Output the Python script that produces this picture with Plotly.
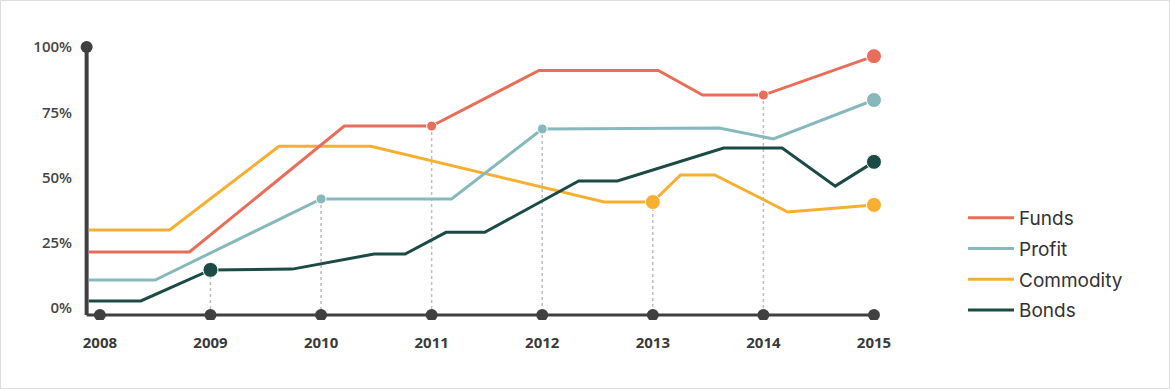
import plotly.graph_objects as go

# ---- data ----
years = [2008, 2009, 2010, 2011, 2012, 2013, 2014, 2015]
year_labels = ["2008", "2009", "2010", "2011", "2012", "2013", "2014", "2015"]
y_ticks = [0, 25, 50, 75, 100]
y_tick_labels = ["0%", "25%", "50%", "75%", "100%"]

funds_x = [2007.9, 2008.81, 2010.21, 2011.0, 2011.97, 2013.05, 2013.45, 2014.0, 2015.0]
funds_y = [21.5, 21.5, 69.7, 69.7, 91.0, 91.0, 81.6, 81.6, 96.5]

profit_x = [2007.9, 2008.5, 2010.0, 2011.18, 2012.0, 2013.6, 2014.09, 2015.0]
profit_y = [10.7, 10.7, 41.8, 41.8, 68.6, 69.0, 64.8, 79.7]

commodity_x = [2007.9, 2008.63, 2009.62, 2010.45, 2012.56, 2013.0, 2013.25, 2013.56, 2014.22, 2015.0]
commodity_y = [29.9, 29.9, 62.0, 62.0, 40.6, 40.6, 51.0, 51.0, 36.8, 39.5]

bonds_x = [2007.9, 2008.37, 2009.0, 2009.74, 2010.48, 2010.76, 2011.13, 2011.48, 2012.33, 2012.68, 2013.64, 2014.17, 2014.65, 2015.0]
bonds_y = [2.7, 2.7, 14.6, 14.9, 20.7, 20.7, 29.0, 29.0, 48.7, 48.7, 61.3, 61.3, 46.7, 56.0]

# highlighted points: (series, year, big?)
highlights = [
    ("Bonds", 2009, True),
    ("Profit", 2010, False),
    ("Funds", 2011, False),
    ("Profit", 2012, False),
    ("Commodity", 2013, True),
    ("Funds", 2014, False),
    ("Funds", 2015, True),
    ("Profit", 2015, True),
    ("Commodity", 2015, True),
    ("Bonds", 2015, True),
]
dashed_years = [2009, 2010, 2011, 2012, 2013, 2014]

# ---- styles ----
colors = {"Funds": "#E96E5A", "Profit": "#87B9BC", "Commodity": "#F6AF30", "Bonds": "#1C4A44"}
series = {
    "Funds": (funds_x, funds_y),
    "Profit": (profit_x, profit_y),
    "Commodity": (commodity_x, commodity_y),
    "Bonds": (bonds_x, bonds_y),
}
legend_rank = {"Funds": 1, "Profit": 2, "Commodity": 3, "Bonds": 4}
draw_order = ["Commodity", "Profit", "Funds", "Bonds"]
axis_color = "#404040"
axis_x = 2007.88
axis_y = -2.7

X_RANGE = [2007.82, 2015.145]
Y_RANGE = [-4.6, 102.7]


def value_at(name, year):
    xs, ys = series[name]
    for i in range(len(xs) - 1):
        if xs[i] <= year <= xs[i + 1]:
            if xs[i + 1] == xs[i]:
                return ys[i]
            t = (year - xs[i]) / (xs[i + 1] - xs[i])
            return ys[i] + t * (ys[i + 1] - ys[i])
    return ys[-1]


fig = go.Figure()

shapes = []
# dashed drop lines
for name, yr, big in highlights:
    if yr in dashed_years:
        shapes.append(dict(type="line", xref="x", yref="y", x0=yr, x1=yr,
                           y0=value_at(name, yr), y1=axis_y, layer="below",
                           line=dict(color="#BDBDBD", width=1.5, dash="dot")))
# axes
shapes.append(dict(type="line", xref="x", yref="y", x0=axis_x, x1=axis_x, y0=100, y1=axis_y,
                   line=dict(color=axis_color, width=4), layer="below"))
shapes.append(dict(type="line", xref="x", yref="y", x0=axis_x, x1=years[-1], y0=axis_y, y1=axis_y,
                   line=dict(color=axis_color, width=3), layer="below"))
# outer frame
shapes.append(dict(type="rect", xref="paper", yref="paper",
                   x0=(0.5 - 80) / 810, x1=(1169.5 - 80) / 810,
                   y0=(320 - 388.5) / 280, y1=(320 - 0.5) / 280,
                   line=dict(color="#DDDDDD", width=1), layer="below"))

# axis end circles
fig.add_trace(go.Scatter(x=years, y=[axis_y] * len(years), mode="markers",
                         marker=dict(size=12, color=axis_color, opacity=1),
                         showlegend=False, hoverinfo="skip"))
fig.add_trace(go.Scatter(x=[axis_x], y=[100], mode="markers",
                         marker=dict(size=12, color=axis_color, opacity=1),
                         showlegend=False, hoverinfo="skip"))

for name in draw_order:
    xs, ys = series[name]
    fig.add_trace(go.Scatter(x=xs, y=ys, mode="lines", name=name,
                             line=dict(color=colors[name], width=3),
                             legendrank=legend_rank[name], legendgroup=name))

for name in draw_order:
    hx = [yr for n, yr, b in highlights if n == name]
    hs = [15 if b else 10 for n, yr, b in highlights if n == name]
    hy = [value_at(name, yr) for yr in hx]
    fig.add_trace(go.Scatter(x=hx, y=hy, mode="markers", showlegend=False, legendgroup=name,
                             marker=dict(size=hs, color=colors[name], opacity=1)))

fig.update_layout(
    width=1170, height=389,
    margin=dict(l=80, r=280, t=40, b=69),
    paper_bgcolor="white", plot_bgcolor="white",
    shapes=shapes,
    legend=dict(x=(963 - 80) / 810, xanchor="left", y=(320 - 264) / 280, yanchor="middle",
                font=dict(family="Inter", size=19, color="#333333"),
                tracegroupgap=3, itemwidth=46, bgcolor="rgba(0,0,0,0)"),
    xaxis=dict(range=X_RANGE, tickvals=years, ticktext=year_labels, showgrid=False,
               zeroline=False, showline=False, ticks="outside", ticklen=9,
               tickcolor="rgba(0,0,0,0)",
               tickfont=dict(family="Open Sans", size=15, color="#3A3A3A", weight=700)),
    yaxis=dict(range=Y_RANGE, tickvals=y_ticks, ticktext=y_tick_labels, showgrid=False,
               zeroline=False, showline=False, ticks="outside", ticklen=4,
               tickcolor="rgba(0,0,0,0)",
               tickfont=dict(family="Open Sans", size=15, color="#454545", weight=600)),
    hovermode=False,
)

fig.write_html("out.html", config={"displayModeBar": False},
               post_script="document.body.style.margin='0px';")
